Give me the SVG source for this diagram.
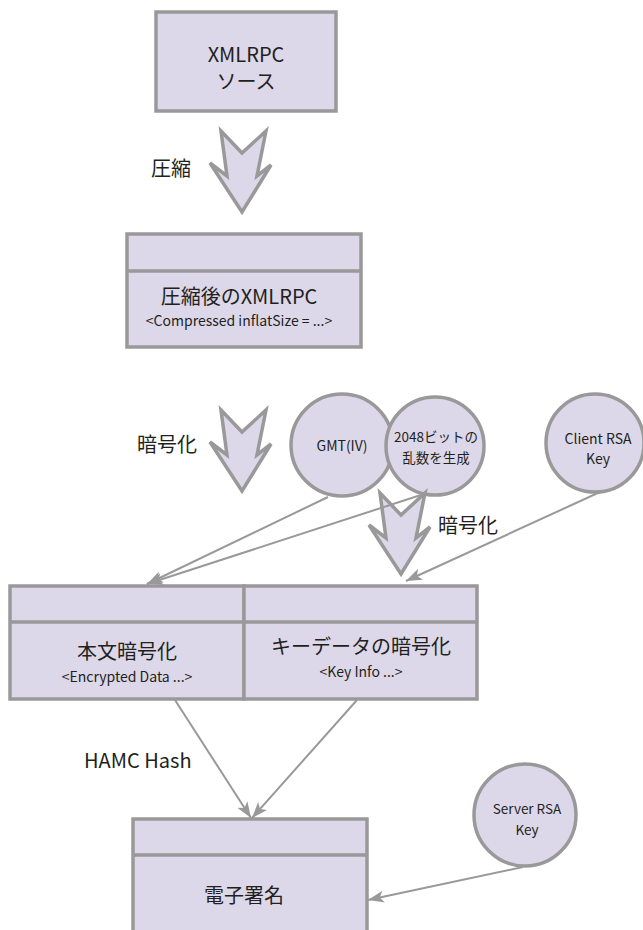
<svg xmlns="http://www.w3.org/2000/svg" width="643" height="930" viewBox="0 0 643 930">
<style>
.box{fill:#ddd8e9;stroke:#999;stroke-width:3.5}
.div{stroke:#999;stroke-width:3.5;fill:none}
.circ{fill:#ddd8e9;stroke:#999;stroke-width:3.5}
.big{fill:#ddd8e9;stroke:#999;stroke-width:3.5;stroke-linejoin:miter}
.conn{stroke:#999;stroke-width:2;fill:none}
text{font-family:"Noto Sans CJK JP","Noto Sans",sans-serif;fill:#231f20;text-anchor:middle}
.t20{font-size:20px}
.t14{font-size:14px}
.t13{font-size:13.5px}
.lbl{font-size:20px;text-anchor:start}
</style>
<defs>
<marker id="ah" markerUnits="userSpaceOnUse" markerWidth="18" markerHeight="14" refX="16" refY="6" orient="auto">
<path d="M0,0 L16,6 L0,12 L4,6 z" fill="#999"/>
</marker>
<path id="bigArrow" d="M0,0 L21,22 L45,0 L36,45 L50,34 L21,81 L-11,32 L6,45 Z"/>
</defs>

<g id="src">
<rect class="box" x="156" y="12" width="180" height="99"/>
<text class="t20" x="246" y="62">XMLRPC</text>
<text class="t20" x="246" y="89">ソース</text>
</g>

<g id="arrow-compress">
<use href="#bigArrow" class="big" transform="translate(221,131)"/>
<text class="lbl" x="151" y="176">圧縮</text>
</g>

<g id="compressed">
<rect class="box" x="127" y="234" width="234" height="113"/>
<line class="div" x1="127" y1="271" x2="361" y2="271"/>
<text class="t20" x="239" y="304">圧縮後のXMLRPC</text>
<text class="t14" x="239" y="326">&lt;Compressed inflatSize = ...&gt;</text>
</g>

<g id="arrow-encrypt1">
<use href="#bigArrow" class="big" transform="translate(221,410)"/>
<text class="lbl" x="137" y="452">暗号化</text>
</g>

<g id="gmt">
<circle class="circ" cx="342" cy="445" r="51"/>
<text class="t14" x="342" y="451">GMT(IV)</text>
</g>

<g id="rand">
<circle class="circ" cx="435" cy="446" r="49"/>
<text class="t13" x="436" y="442">2048ビットの</text>
<text class="t13" x="436" y="463">乱数を生成</text>
</g>

<g id="client">
<circle class="circ" cx="595" cy="443" r="49"/>
<text class="t14" x="598" y="444">Client RSA</text>
<text class="t14" x="598" y="464">Key</text>
</g>

<g id="arrow-encrypt2">
<use href="#bigArrow" class="big" transform="translate(380,493)"/>
<text class="lbl" x="438" y="533">暗号化</text>
</g>

<g id="body">
<rect class="box" x="10" y="586" width="234" height="113"/>
<line class="div" x1="10" y1="622" x2="244" y2="622"/>
<text class="t20" x="127" y="659">本文暗号化</text>
<text class="t14" x="127" y="682">&lt;Encrypted Data ...&gt;</text>
</g>

<g id="keydata">
<rect class="box" x="244" y="586" width="233" height="113"/>
<line class="div" x1="244" y1="622" x2="477" y2="622"/>
<text class="t20" x="361" y="654">キーデータの暗号化</text>
<text class="t14" x="361" y="677">&lt;Key Info ...&gt;</text>
</g>

<g id="server">
<circle class="circ" cx="525" cy="815" r="51"/>
<text class="t13" x="527" y="814">Server RSA</text>
<text class="t13" x="527" y="835">Key</text>
</g>

<g id="sign">
<rect class="box" x="133" y="819" width="234" height="120"/>
<line class="div" x1="133" y1="855" x2="367" y2="855"/>
<text class="t20" x="244" y="903">電子署名</text>
</g>

<g id="connectors">
<line class="conn" x1="328" y1="497" x2="147" y2="584" marker-end="url(#ah)"/>
<line class="conn" x1="427" y1="493" x2="147" y2="584" marker-end="url(#ah)"/>
<line class="conn" x1="600" y1="492" x2="406" y2="581" marker-end="url(#ah)"/>
<line class="conn" x1="175" y1="700" x2="251" y2="818" marker-end="url(#ah)"/>
<line class="conn" x1="357" y1="700" x2="252" y2="818" marker-end="url(#ah)"/>
<line class="conn" x1="523" y1="867" x2="368" y2="900" marker-end="url(#ah)"/>
<text class="lbl" x="84" y="768">HAMC Hash</text>
</g>
</svg>
